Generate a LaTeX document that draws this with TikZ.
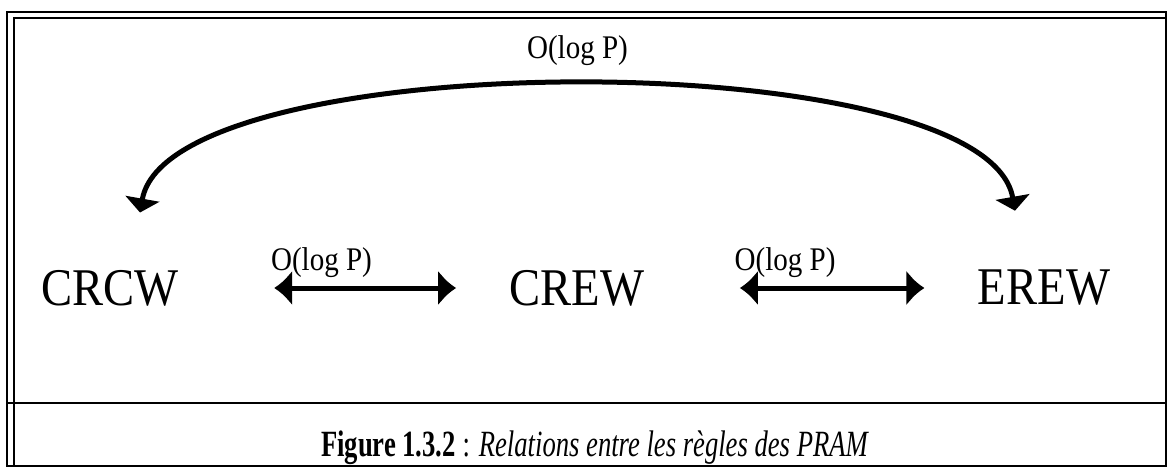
\documentclass[tikz,border=0pt]{standalone}
\usepackage{fontspec}
\setmainfont[FakeStretch=0.88]{Liberation Serif}
\newfontfamily\capfont[FakeStretch=0.72]{Liberation Serif}
\usetikzlibrary{positioning, arrows.meta}

\tikzset{
  model/.style={font=\fontsize{53}{60}\selectfont},
  cost/.style={font=\fontsize{33}{38}\selectfont},
  link/.style={{Latex[width=36pt, length=18pt]}-{Latex[width=36pt, length=18pt]},
    line width=5pt, shorten <=92pt, shorten >=50pt},
  sim/.style={{Triangle[width=34pt, length=14pt]}-{Triangle[width=34pt, length=14pt]},
    line width=5pt},
}

\begin{document}
\begin{tikzpicture}[x=1pt, y=1pt, node distance=467pt]
    \useasboundingbox (0,0) rectangle (1170,467);

    % frame
    \draw[line width=2.5pt] (7,1) rectangle (1166,455);
    \draw[line width=1.5pt] (14,1) -- (14,449) -- (1166,449);
    \draw[line width=2.5pt] (7,64) -- (1166,64);

    \node[model] (crcw) at (110,179) {CRCW};
    \node[model] (crew) [right of=crcw] {CREW};
    \node[model] (erew) [right of=crew] {EREW};

    \path (crcw) edge [link] node[cost, pos=0.43, above, yshift=5pt] {O(log P)} (crew);
    \path (crew) edge [link] node[cost, pos=0.42, above, yshift=5pt] {O(log P)} (erew);

    \draw[sim] ([shift={(30pt,54pt)}]crcw.north) to[out=80, in=100, looseness=0.5]
        node[cost, above, yshift=14pt] {O(log P)} ([shift={(-29pt,56pt)}]erew.north);

    \node[anchor=base, font=\capfont\fontsize{37}{42}\selectfont] (caption) at (595,11)
        {\textbf{Figure 1.3.2} : \textit{Relations entre les règles des PRAM}};
  \end{tikzpicture}
\end{document}
